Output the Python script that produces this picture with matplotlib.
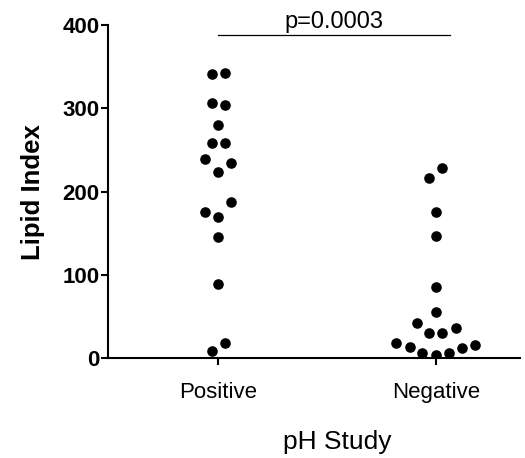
import numpy as np
import matplotlib
matplotlib.use("Agg")
import matplotlib.pyplot as plt

plt.rcParams['font.family'] = ['Liberation Sans', 'DejaVu Sans']

categories = ["Positive", "Negative"]
positive = [341, 342, 307, 304, 280, 259, 259, 239, 235, 224, 187, 175, 170, 146, 89, 18, 8]
negative = [229, 217, 175, 147, 86, 56, 42, 36, 30, 30, 18, 14, 12, 16, 6, 4, 6]
# horizontal scatter offsets (in category units) so dots don't overlap
pos_jitter = [-0.031, 0.031, -0.031, 0.031, 0, -0.031, 0.031, -0.061, 0.058, 0, 0.058, -0.061, 0, 0, 0, 0.031, -0.031]
neg_jitter = [0.028, -0.034, 0, 0, 0, 0, -0.09, 0.089, -0.034, 0.024, -0.183, -0.121, 0.119, 0.177, -0.064, 0, 0.06]
p_text = "p=0.0003"

fig = plt.figure(figsize=(5.25, 4.58), dpi=100)
ax = fig.add_axes([0.206, 0.218, 0.785, 0.727])

for i, (vals, jit) in enumerate([(positive, pos_jitter), (negative, neg_jitter)]):
    xs = i + np.array(jit)
    ax.plot(xs, vals, 'o', color='black', markersize=6.6, linestyle='none')

# significance bar
ax.plot([0, 1.065], [388, 388], color='black', lw=0.9, clip_on=False)
ax.text(0.53, 404, p_text, ha='center', va='center', fontsize=17)

ax.set_xlim(-0.505, 1.385)
ax.set_ylim(0, 400)
ax.set_yticks([0, 100, 200, 300, 400])
ax.set_xticks([0, 1])
ax.set_xticklabels(categories, fontsize=16)
for lab in ax.get_yticklabels():
    lab.set_fontweight('bold')
    lab.set_fontsize(16)
ax.tick_params(axis='y', length=5, width=1.5, pad=1)
ax.tick_params(axis='x', length=5, width=1.5, pad=12)

for s in ['top', 'right']:
    ax.spines[s].set_visible(False)
ax.spines['left'].set_linewidth(1.5)
ax.spines['bottom'].set_linewidth(1.5)

fig.text(0.063, 0.581, "Lipid Index", rotation=90, ha='center', va='center',
         fontsize=18.5, fontweight='bold')
fig.text(0.642, 0.035, "pH Study", ha='center', va='center', fontsize=19)

fig.savefig("out.png", dpi=100)
